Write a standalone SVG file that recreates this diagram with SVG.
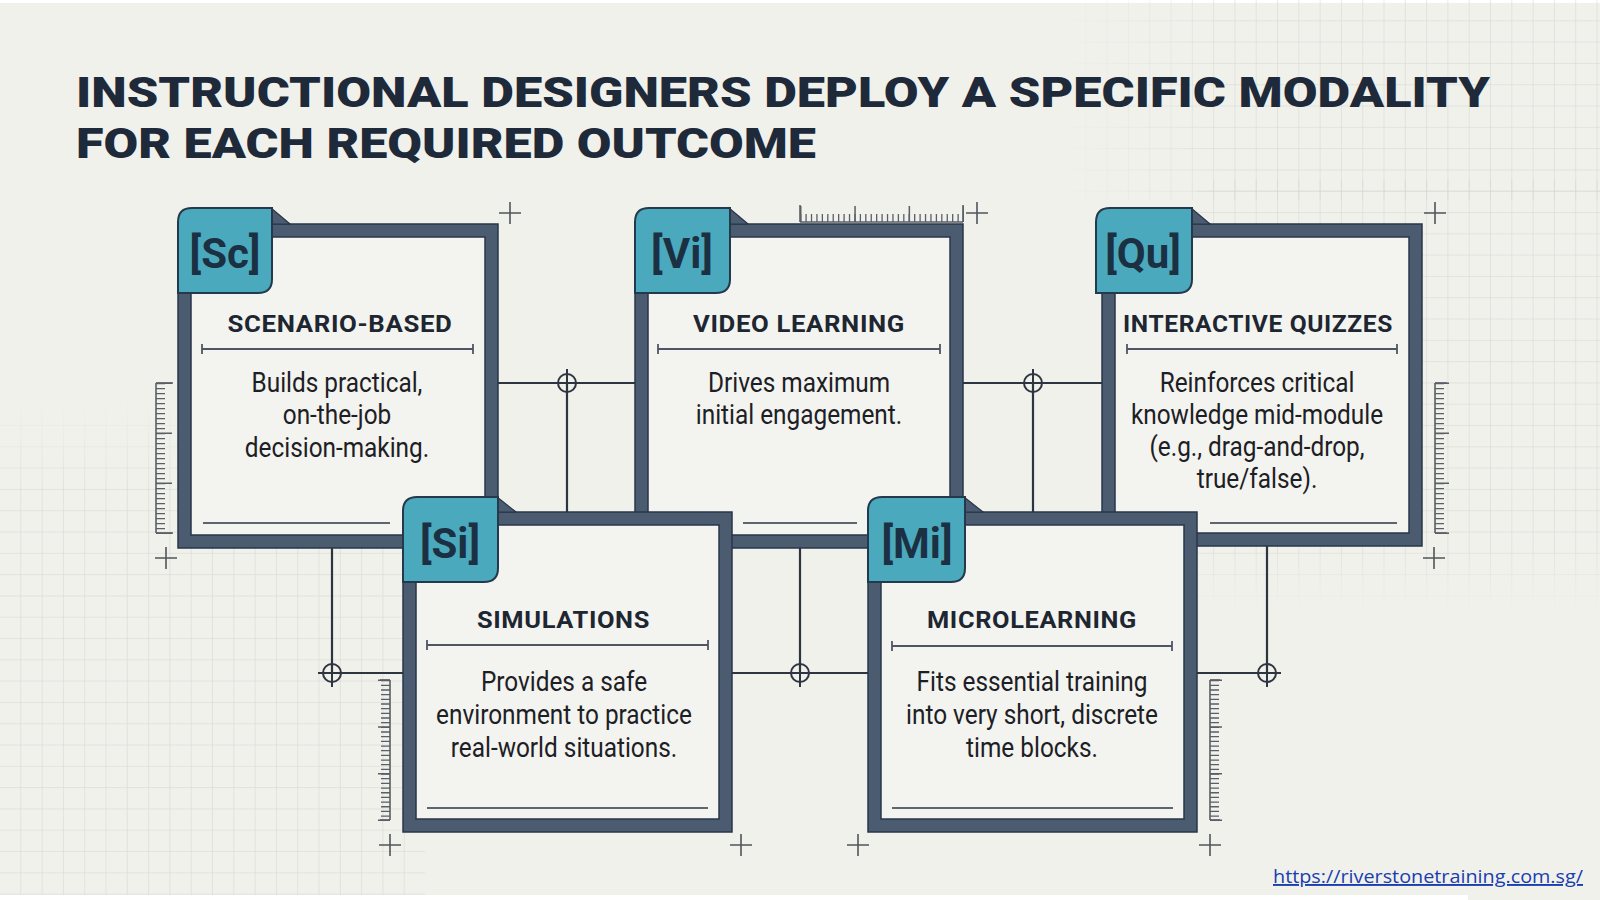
<svg xmlns="http://www.w3.org/2000/svg" width="1600" height="900" viewBox="0 0 1600 900">
<style>
.bg{fill:#f1f1ec}
.outer{fill:#4b5c70;stroke:#28364a;stroke-width:1.5}
.inner{fill:#f3f3ef;stroke:#28364a;stroke-width:1.5}
.tab{fill:#4ba9be;stroke:#25394c;stroke-width:2}
.fold{fill:#4b5c70;stroke:#28364a;stroke-width:1.2}
.tablbl{font-family:Roboto,"Liberation Sans",sans-serif;font-weight:700;font-size:42px;fill:#1b3143;text-anchor:middle}
.ttl{font-family:Roboto,"Liberation Sans",sans-serif;font-weight:700;font-size:24px;fill:#1d2631;text-anchor:middle;letter-spacing:0.6px}
.body{font-family:Roboto,"Liberation Sans",sans-serif;font-weight:400;font-size:28px;fill:#1c2025;text-anchor:middle}
.uline{fill:none;stroke:#4e5665;stroke-width:1.8}
.bline{fill:none;stroke:#5d6571;stroke-width:2}
.conn{fill:none;stroke:#2d3540;stroke-width:2.2}
.cross{fill:none;stroke:#2d3540;stroke-width:2}
.plus{fill:none;stroke:#50555c;stroke-width:1.6}
.rul{fill:none;stroke:#5a5f66;stroke-width:1.6}
.head{font-family:Roboto,"Liberation Sans",sans-serif;font-weight:900;font-size:43px;fill:#1e2a3a}
</style>
<defs>
<pattern id="grid" width="21.3" height="21.3" patternUnits="userSpaceOnUse">
<path d="M21.3 0V21.3H0" fill="none" stroke="#d2d5d0" stroke-width="1"/>
</pattern>
<linearGradient id="fadeTop" x1="0" y1="0" x2="0" y2="1">
<stop offset="0" stop-color="#fff" stop-opacity="0"/>
<stop offset="0.18" stop-color="#fff" stop-opacity="1"/>
<stop offset="1" stop-color="#fff" stop-opacity="1"/>
</linearGradient>
<linearGradient id="fadeLeft" x1="0" y1="0" x2="1" y2="0">
<stop offset="0" stop-color="#fff" stop-opacity="0"/>
<stop offset="0.3" stop-color="#fff" stop-opacity="1"/>
<stop offset="1" stop-color="#fff" stop-opacity="1"/>
</linearGradient>
<linearGradient id="fadeBot" x1="0" y1="0" x2="0" y2="1">
<stop offset="0" stop-color="#fff" stop-opacity="1"/>
<stop offset="0.85" stop-color="#fff" stop-opacity="1"/>
<stop offset="1" stop-color="#fff" stop-opacity="0"/>
</linearGradient>
<mask id="mLeft"><rect x="0" y="400" width="425" height="495" fill="url(#fadeTop)"/></mask>
<mask id="mTR"><rect x="1060" y="0" width="540" height="200" fill="url(#fadeLeft)"/></mask>
<mask id="mR"><rect x="1197" y="180" width="403" height="430" fill="url(#fadeBot)"/></mask>
</defs>

<rect class="bg" x="0" y="0" width="1600" height="900"/>
<rect x="0" y="0" width="1600" height="3" fill="#ffffff"/>
<g id="grid-areas">
<rect x="0" y="400" width="425" height="495" fill="url(#grid)" mask="url(#mLeft)"/>
<rect x="1060" y="0" width="540" height="200" fill="url(#grid)" mask="url(#mTR)"/>
<rect x="1197" y="180" width="403" height="430" fill="url(#grid)" mask="url(#mR)"/>
</g>
<rect x="0" y="895" width="1468" height="5" fill="#ffffff"/>

<g id="title">
<text class="head"><tspan x="76" y="107" textLength="1414" lengthAdjust="spacingAndGlyphs">INSTRUCTIONAL DESIGNERS DEPLOY A SPECIFIC MODALITY</tspan><tspan x="76" y="158" textLength="740" lengthAdjust="spacingAndGlyphs">FOR EACH REQUIRED OUTCOME</tspan></text>
</g>

<g id="decor">
<path class="plus" d="M499,213h22M510,202v22 M966,213h22M977,202v22 M1424,213h22M1435,202v22 M155,558h22M166,547v22 M1423,558h22M1434,547v22 M379,845h22M390,834v22 M730,845h22M741,834v22 M847,845h22M858,834v22 M1199,845h22M1210,834v22"/>
<path class="rul" d="M156,383V533M156,383h17M156,533h17"/>
<line x1="160.5" y1="383" x2="160.5" y2="533" stroke="#5a5f66" stroke-width="9" stroke-dasharray="1.3 3.7"/>
<line x1="164" y1="382.5" x2="164" y2="534" stroke="#5a5f66" stroke-width="16" stroke-dasharray="1.5 48.5"/>
<path class="rul" d="M1435,383V533M1435,383h12M1435,533h12"/>
<line x1="1439.5" y1="383" x2="1439.5" y2="533" stroke="#5a5f66" stroke-width="9" stroke-dasharray="1.3 3.7"/>
<line x1="1442" y1="382.5" x2="1442" y2="534" stroke="#5a5f66" stroke-width="14" stroke-dasharray="1.5 48.5"/>
<path class="rul" d="M390,680V820M390,680h-10M390,820h-10"/>
<line x1="385.5" y1="680" x2="385.5" y2="820" stroke="#5a5f66" stroke-width="9" stroke-dasharray="1.3 3.37"/>
<line x1="384" y1="679.5" x2="384" y2="821" stroke="#5a5f66" stroke-width="12" stroke-dasharray="1.5 45.2"/>
<path class="rul" d="M1210,680V820M1210,680h10M1210,820h10"/>
<line x1="1214.5" y1="680" x2="1214.5" y2="820" stroke="#5a5f66" stroke-width="9" stroke-dasharray="1.3 3.37"/>
<line x1="1216" y1="679.5" x2="1216" y2="821" stroke="#5a5f66" stroke-width="12" stroke-dasharray="1.5 45.2"/>
<path class="rul" d="M800,222H963M800,222v-17M963,222v-17"/>
<line x1="800" y1="218" x2="963" y2="218" stroke="#5a5f66" stroke-width="8" stroke-dasharray="1.3 4.13"/>
<line x1="800" y1="214" x2="964" y2="214" stroke="#5a5f66" stroke-width="16" stroke-dasharray="1.5 52.8"/>
</g>

<g id="node-sc">
<rect class="outer" x="178" y="224" width="320" height="324"/>
<rect class="inner" x="191" y="237" width="294" height="298"/>
<polygon class="fold" points="271,208 290,224 271,224"/>
<path class="tab" d="M178,222 Q178,208 192,208 H272 V279 Q272,293 258,293 H178 Z"/>
<text class="tablbl" x="225" y="268">[Sc]</text>
<text class="ttl" x="340" y="332" textLength="225" lengthAdjust="spacingAndGlyphs">SCENARIO-BASED</text>
<path class="uline" d="M202,349H473M202,344v10M473,344v10"/>
<text class="body" transform="translate(337,392) scale(0.87,1)"><tspan x="0" y="0">Builds practical,</tspan><tspan x="0" y="32.5">on-the-job</tspan><tspan x="0" y="65">decision-making.</tspan></text>
<path class="bline" d="M203,523H390"/>
</g>

<g id="node-vi">
<rect class="outer" x="635" y="224" width="328" height="324"/>
<rect class="inner" x="648" y="237" width="302" height="298"/>
<polygon class="fold" points="729,208 748,224 729,224"/>
<path class="tab" d="M635,222 Q635,208 649,208 H730 V279 Q730,293 716,293 H635 Z"/>
<text class="tablbl" x="682" y="268">[Vi]</text>
<text class="ttl" x="799" y="332" textLength="212" lengthAdjust="spacingAndGlyphs">VIDEO LEARNING</text>
<path class="uline" d="M658,349H940M658,344v10M940,344v10"/>
<text class="body" transform="translate(799,392) scale(0.87,1)"><tspan x="0" y="0">Drives maximum</tspan><tspan x="0" y="32.5">initial engagement.</tspan></text>
<path class="bline" d="M743,523H857"/>
</g>

<g id="node-qu">
<rect class="outer" x="1102" y="224" width="320" height="322"/>
<rect class="inner" x="1115" y="237" width="294" height="296"/>
<polygon class="fold" points="1191,208 1210,224 1191,224"/>
<path class="tab" d="M1096,222 Q1096,208 1110,208 H1192 V279 Q1192,293 1178,293 H1096 Z"/>
<text class="tablbl" x="1143" y="268">[Qu]</text>
<text class="ttl" x="1258" y="332" textLength="270" lengthAdjust="spacingAndGlyphs">INTERACTIVE QUIZZES</text>
<path class="uline" d="M1127,349H1397M1127,344v10M1397,344v10"/>
<text class="body" transform="translate(1257,392) scale(0.87,1)"><tspan x="0" y="0">Reinforces critical</tspan><tspan x="0" y="32">knowledge mid-module</tspan><tspan x="0" y="64">(e.g., drag-and-drop,</tspan><tspan x="0" y="96">true/false).</tspan></text>
<path class="bline" d="M1210,523H1397"/>
</g>

<g id="connectors">
<path class="conn" d="M498,383H635M567,383V512 M963,383H1102M1033,383V512 M332,548V673H403 M800,548V673M732,673H868 M1267,546V673M1197,673H1281"/>
<g class="cross">
<circle cx="567" cy="383" r="9"/><path d="M553,383h28M567,369v28"/>
<circle cx="1033" cy="383" r="9"/><path d="M1019,383h28M1033,369v28"/>
<circle cx="332" cy="673" r="9"/><path d="M318,673h28M332,659v28"/>
<circle cx="800" cy="673" r="9"/><path d="M786,673h28M800,659v28"/>
<circle cx="1267" cy="673" r="9"/><path d="M1253,673h28M1267,659v28"/>
</g>
</g>

<g id="node-si">
<rect class="outer" x="403" y="512" width="329" height="320"/>
<rect class="inner" x="416" y="525" width="303" height="294"/>
<polygon class="fold" points="497,497 516,512 497,512"/>
<path class="tab" d="M403,511 Q403,497 417,497 H498 V568 Q498,582 484,582 H403 Z"/>
<text class="tablbl" x="450" y="558">[Si]</text>
<text class="ttl" x="563.5" y="628" textLength="173" lengthAdjust="spacingAndGlyphs">SIMULATIONS</text>
<path class="uline" d="M427,645H708M427,640v10M708,640v10"/>
<text class="body" transform="translate(564,691) scale(0.87,1)"><tspan x="0" y="0">Provides a safe</tspan><tspan x="0" y="33">environment to practice</tspan><tspan x="0" y="66">real-world situations.</tspan></text>
<path class="bline" d="M427,808H708"/>
</g>

<g id="node-mi">
<rect class="outer" x="868" y="512" width="329" height="320"/>
<rect class="inner" x="881" y="525" width="303" height="294"/>
<polygon class="fold" points="964,497 983,512 964,512"/>
<path class="tab" d="M868,511 Q868,497 882,497 H965 V568 Q965,582 951,582 H868 Z"/>
<text class="tablbl" x="917" y="558">[Mi]</text>
<text class="ttl" x="1032" y="628" textLength="210" lengthAdjust="spacingAndGlyphs">MICROLEARNING</text>
<path class="uline" d="M892,646H1172M892,641v10M1172,641v10"/>
<text class="body" transform="translate(1032,691) scale(0.87,1)"><tspan x="0" y="0">Fits essential training</tspan><tspan x="0" y="33">into very short, discrete</tspan><tspan x="0" y="66">time blocks.</tspan></text>
<path class="bline" d="M892,808H1173"/>
</g>

<g id="link">
<text x="1273" y="883" font-family="'Open Sans','Liberation Sans',sans-serif" font-size="19" fill="#1a3db0" textLength="310" lengthAdjust="spacingAndGlyphs" text-decoration="underline">https://riverstonetraining.com.sg/</text>
</g>
</svg>
